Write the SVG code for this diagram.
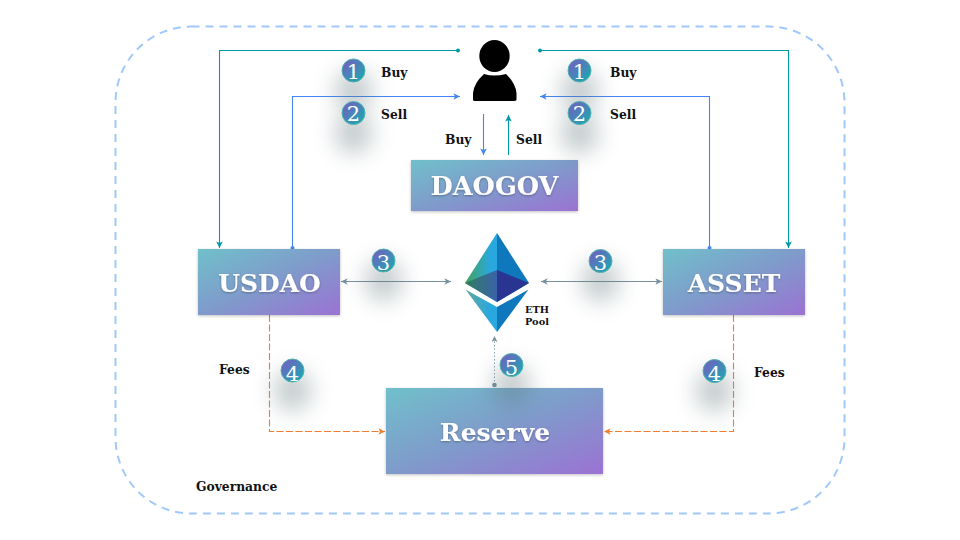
<svg xmlns="http://www.w3.org/2000/svg" width="960" height="540" viewBox="0 0 960 540">
<style>
.t{font-family:"DejaVu Serif","Liberation Serif",serif;font-weight:700;font-size:12.3px;fill:#111}
.box{font-family:"DejaVu Serif","Liberation Serif",serif;font-weight:700;fill:#fff;text-anchor:middle;filter:url(#ts)}
.num{font-family:"DejaVu Serif","Liberation Serif",serif;font-size:21px;fill:#fff;text-anchor:middle}
.tl{fill:none;stroke:#0097a7;stroke-width:1.1}
.bl{fill:none;stroke:#4285f4;stroke-width:1.1}
.gr{fill:none;stroke:#78909c;stroke-width:1.1}
.or{fill:none;stroke:#ef7d32;stroke-width:1.1;stroke-dasharray:7 2.500}
</style>
<defs>
<linearGradient id="g" x1="0" y1="0" x2="1" y2="1"><stop offset="0" stop-color="#70c0ca"/><stop offset=".5" stop-color="#7f9bcb"/><stop offset="1" stop-color="#9b72d3"/></linearGradient>
<linearGradient id="n" x1="0" y1="0" x2="1" y2="1"><stop offset="0" stop-color="#7e57c2"/><stop offset="1" stop-color="#12b0b0"/></linearGradient>
<linearGradient id="e1" x1="0" y1="0" x2="1" y2="0"><stop offset="0" stop-color="#45a35a"/><stop offset=".8" stop-color="#29a8e0"/></linearGradient>
<linearGradient id="e2" x1="0" y1="0" x2="1" y2="0"><stop offset="0" stop-color="#2f7f5f"/><stop offset="1" stop-color="#3a62a8"/></linearGradient>
<linearGradient id="e3" x1="0" y1="0" x2="1" y2="0"><stop offset="0" stop-color="#62a892"/><stop offset=".75" stop-color="#29a8e0"/></linearGradient>
<filter id="sh" x="-10%" y="-10%" width="120%" height="125%"><feDropShadow dx="0" dy="1" stdDeviation="1.500" flood-color="#000" flood-opacity=".25"/></filter>
<filter id="ts" x="-10%" y="-20%" width="120%" height="150%"><feDropShadow dx="0" dy="1" stdDeviation="1" flood-color="#000" flood-opacity=".3"/></filter>
<filter id="blur" x="-150%" y="-150%" width="400%" height="400%"><feGaussianBlur stdDeviation="11"/></filter>
<marker id="at" markerWidth="7" markerHeight="7" refX="6" refY="3" orient="auto"><path d="M0 0L6 3L0 6L1.500 3Z" fill="#0097a7"/></marker>
<marker id="ab" markerWidth="7" markerHeight="7" refX="6" refY="3" orient="auto"><path d="M0 0L6 3L0 6L1.500 3Z" fill="#4285f4"/></marker>
<marker id="ag" markerWidth="7" markerHeight="7" refX="6" refY="3" orient="auto"><path d="M0 0L6 3L0 6L1.500 3Z" fill="#78909c"/></marker>
<marker id="ags" markerWidth="7" markerHeight="7" refX="0" refY="3" orient="auto"><path d="M6 0L0 3L6 6L4.500 3Z" fill="#78909c"/></marker>
<marker id="ao" markerWidth="7" markerHeight="7" refX="6" refY="3" orient="auto"><path d="M0 0L6 3L0 6L1.500 3Z" fill="#ef7d32"/></marker>
<g id="badge"><ellipse cx="0" cy="20" rx="19" ry="21" fill="#5f7378" opacity=".36" filter="url(#blur)"/><circle r="11.500" fill="url(#n)" stroke="#4fb5ac" stroke-width="1"/></g>
</defs>
<rect width="960" height="540" fill="#fff"/>
<rect id="governance-frame" x="115.500" y="26.500" width="729" height="487" rx="76" fill="none" stroke="#a0c8fa" stroke-width="2" stroke-dasharray="8 6"/>
<g id="connectors">
<path class="tl" d="M458 50.500H219.500V248" marker-end="url(#at)"/><circle cx="458" cy="50.500" r="2" fill="#0097a7"/>
<path class="tl" d="M540 50.500H788.500V248" marker-end="url(#at)"/><circle cx="540" cy="50.500" r="2" fill="#0097a7"/>
<path class="bl" d="M292.500 248V96.500H460" marker-end="url(#ab)"/><circle cx="292.500" cy="248" r="2" fill="#4285f4"/>
<path class="bl" d="M709.500 248V96.500H540" marker-end="url(#ab)"/><circle cx="709.500" cy="248" r="2" fill="#4285f4"/>
<path class="bl" d="M483.500 114V155" marker-end="url(#ab)"/>
<path class="tl" d="M508.500 155V115" marker-end="url(#at)"/>
<path class="gr" d="M341 281.500H451" marker-start="url(#ags)" marker-end="url(#ag)"/>
<path class="gr" d="M541 281.500H662" marker-start="url(#ags)" marker-end="url(#ag)"/>
<path class="or" d="M269.500 315V431.500H385" marker-end="url(#ao)"/>
<path class="or" d="M733.500 315V431.500H604" marker-end="url(#ao)"/>
<path d="M494.500 385V336" fill="none" stroke="#90a4ae" stroke-width="1" stroke-dasharray="1.500 2" marker-end="url(#ag)"/><circle cx="494.500" cy="385" r="2.300" fill="#78909c"/>
</g>
<g id="user"><ellipse cx="494.500" cy="56" rx="15.200" ry="16" fill="#000"/><path d="M473 100V93Q474 83 484 74Q494 77 506 74Q515.500 83 516.500 93V100Q516 101 514 101H475Q473 101 473 100Z" fill="#000"/></g>
<g id="daogov"><rect x="411" y="160" width="167" height="51" fill="url(#g)" filter="url(#sh)"/><text class="box" x="494.500" y="195" font-size="25.600">DAOGOV</text></g>
<g id="usdao"><rect x="198" y="249" width="142" height="66" fill="url(#g)" filter="url(#sh)"/><text class="box" x="269.500" y="292" font-size="25">USDAO</text></g>
<g id="asset"><rect x="663" y="249" width="142" height="66" fill="url(#g)" filter="url(#sh)"/><text class="box" x="734" y="292" font-size="25">ASSET</text></g>
<g id="reserve"><rect x="386" y="388" width="217" height="86" fill="url(#g)" filter="url(#sh)"/><text class="box" x="495" y="441" font-size="25">Reserve</text></g>
<g id="eth">
<path d="M497 233L465 283L497 302Z" fill="url(#e1)"/><path d="M497 233L529 283L497 302Z" fill="#0f78bd"/>
<path d="M465 283L497 270V302Z" fill="url(#e2)"/><path d="M529 283L497 270V302Z" fill="#2a3592"/>
<path d="M465.500 289.500L497 307V332Z" fill="url(#e3)"/><path d="M528.500 289.500L497 307V332Z" fill="#0f78bd"/>
<text class="t" style="font-size:9.800px" x="525" y="313">ETH</text><text class="t" style="font-size:9.800px" x="525" y="325">Pool</text>
</g>
<g id="badges">
<g transform="translate(353.500 70.500)"><use href="#badge"/><text class="num" y="8">1</text></g>
<g transform="translate(353.500 113)"><use href="#badge"/><text class="num" y="8">2</text></g>
<g transform="translate(579.500 70.500)"><use href="#badge"/><text class="num" y="8">1</text></g>
<g transform="translate(579.500 113)"><use href="#badge"/><text class="num" y="8">2</text></g>
<g transform="translate(383.500 260.500)"><use href="#badge"/><text class="num" y="9">3</text></g>
<g transform="translate(600.500 261)"><use href="#badge"/><text class="num" y="9">3</text></g>
<g transform="translate(292.500 370.500)"><use href="#badge"/><text class="num" y="10">4</text></g>
<g transform="translate(714.500 371)"><use href="#badge"/><text class="num" y="10">4</text></g>
<g transform="translate(511.500 365)"><use href="#badge"/><text class="num" y="10">5</text></g>
</g>
<g id="labels">
<text class="t" x="381" y="76.500">Buy</text><text class="t" x="381" y="118.500">Sell</text>
<text class="t" x="610" y="76.500">Buy</text><text class="t" x="610" y="118.500">Sell</text>
<text class="t" x="445" y="144">Buy</text><text class="t" x="516" y="144">Sell</text>
<text class="t" x="219" y="374">Fees</text><text class="t" x="754" y="377">Fees</text>
<text class="t" x="196" y="491">Governance</text>
</g>
</svg>
